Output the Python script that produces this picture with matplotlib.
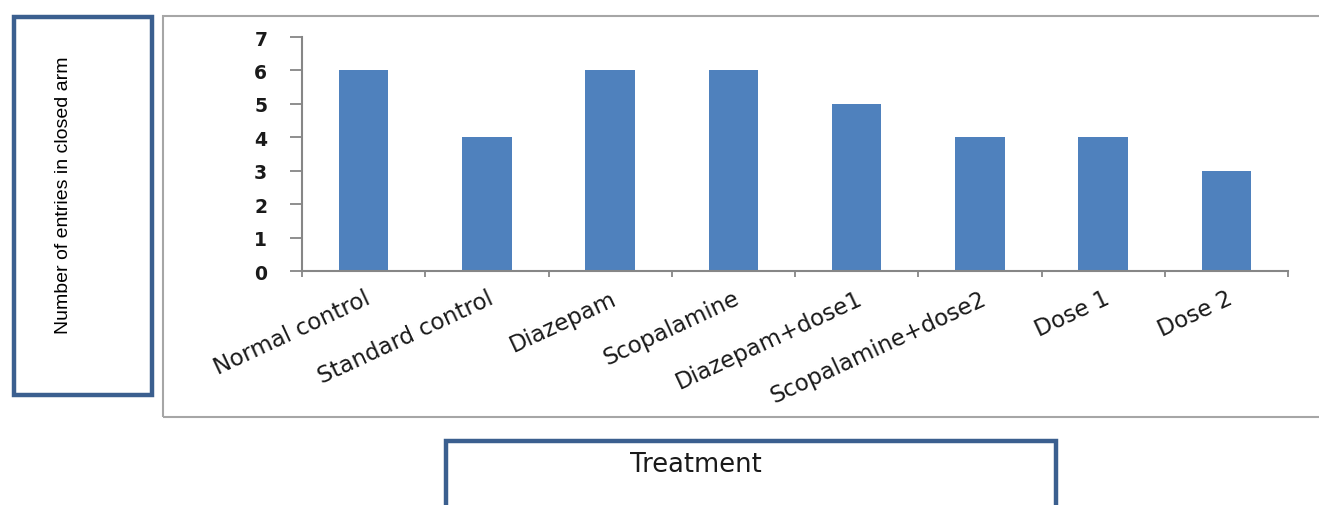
import matplotlib
matplotlib.use("Agg")
import matplotlib.pyplot as plt
from matplotlib.patches import Rectangle
import numpy as np

treatments = ["Normal control", "Standard control", "Diazepam", "Scopalamine",
              "Diazepam+dose1", "Scopalamine+dose2", "Dose 1", "Dose 2"]
entries = [6, 4, 6, 6, 5, 4, 4, 3]
y_ticks = [0, 1, 2, 3, 4, 5, 6, 7]

W, H = 1319, 506
fig = plt.figure(figsize=(W / 100, H / 100), dpi=100)

def px_box(x0, y0, x1, y1, **kw):
    # rectangle given in pixel coords measured from the top-left corner
    r = Rectangle((x0 / W, 1 - y1 / H), (x1 - x0) / W, (y1 - y0) / H,
                  transform=fig.transFigure, fill=False, **kw)
    fig.add_artist(r)
    return r

# chart area frame and the two title boxes
px_box(163, 17, 1330, 418, edgecolor="#a6a6a6", linewidth=1.5)
px_box(14, 18, 152, 396, edgecolor="#3b5f8f", linewidth=3.2)
px_box(446, 442, 1056, 530, edgecolor="#3b5f8f", linewidth=3.2)

ax = fig.add_axes([302 / W, 1 - 272 / H, (1288 - 302) / W, (272 - 38) / H])
x = np.arange(len(treatments))
ax.bar(x, entries, width=0.4, color="#4f81bd", zorder=2)

ax.set_xlim(-0.5, len(treatments) - 0.5)
ax.set_ylim(0, 7)
ax.set_yticks(y_ticks)
ax.set_yticklabels([str(v) for v in y_ticks], fontsize=13.5, fontweight="bold",
                   family="DejaVu Sans", color="#1a1a1a")
ax.tick_params(axis="y", length=9, width=1.3, color="#868686", pad=16)

ax.set_xticks(x)
ax.set_xticklabels(treatments, rotation=25, ha="right", rotation_mode="anchor",
                   fontsize=16.5, family="DejaVu Sans", color="#1a1a1a")
ax.tick_params(axis="x", which="major", length=0, pad=11)
ax.set_xticks(np.arange(len(treatments) + 1) - 0.5, minor=True)
ax.tick_params(axis="x", which="minor", length=4, width=1.3, color="#868686")

for side in ["top", "right"]:
    ax.spines[side].set_visible(False)
for side in ["left", "bottom"]:
    ax.spines[side].set_color("#868686")
    ax.spines[side].set_linewidth(1.5)

fig.text(64 / W, 1 - 195 / H, "Number of entries in closed arm", rotation=90,
         ha="center", va="center", fontsize=14, family="Liberation Sans")
fig.text(696 / W, 1 - 465 / H, "Treatment", ha="center", va="center",
         fontsize=18.5, family="DejaVu Sans", color="#1a1a1a")

fig.savefig("out.png", dpi=100)
